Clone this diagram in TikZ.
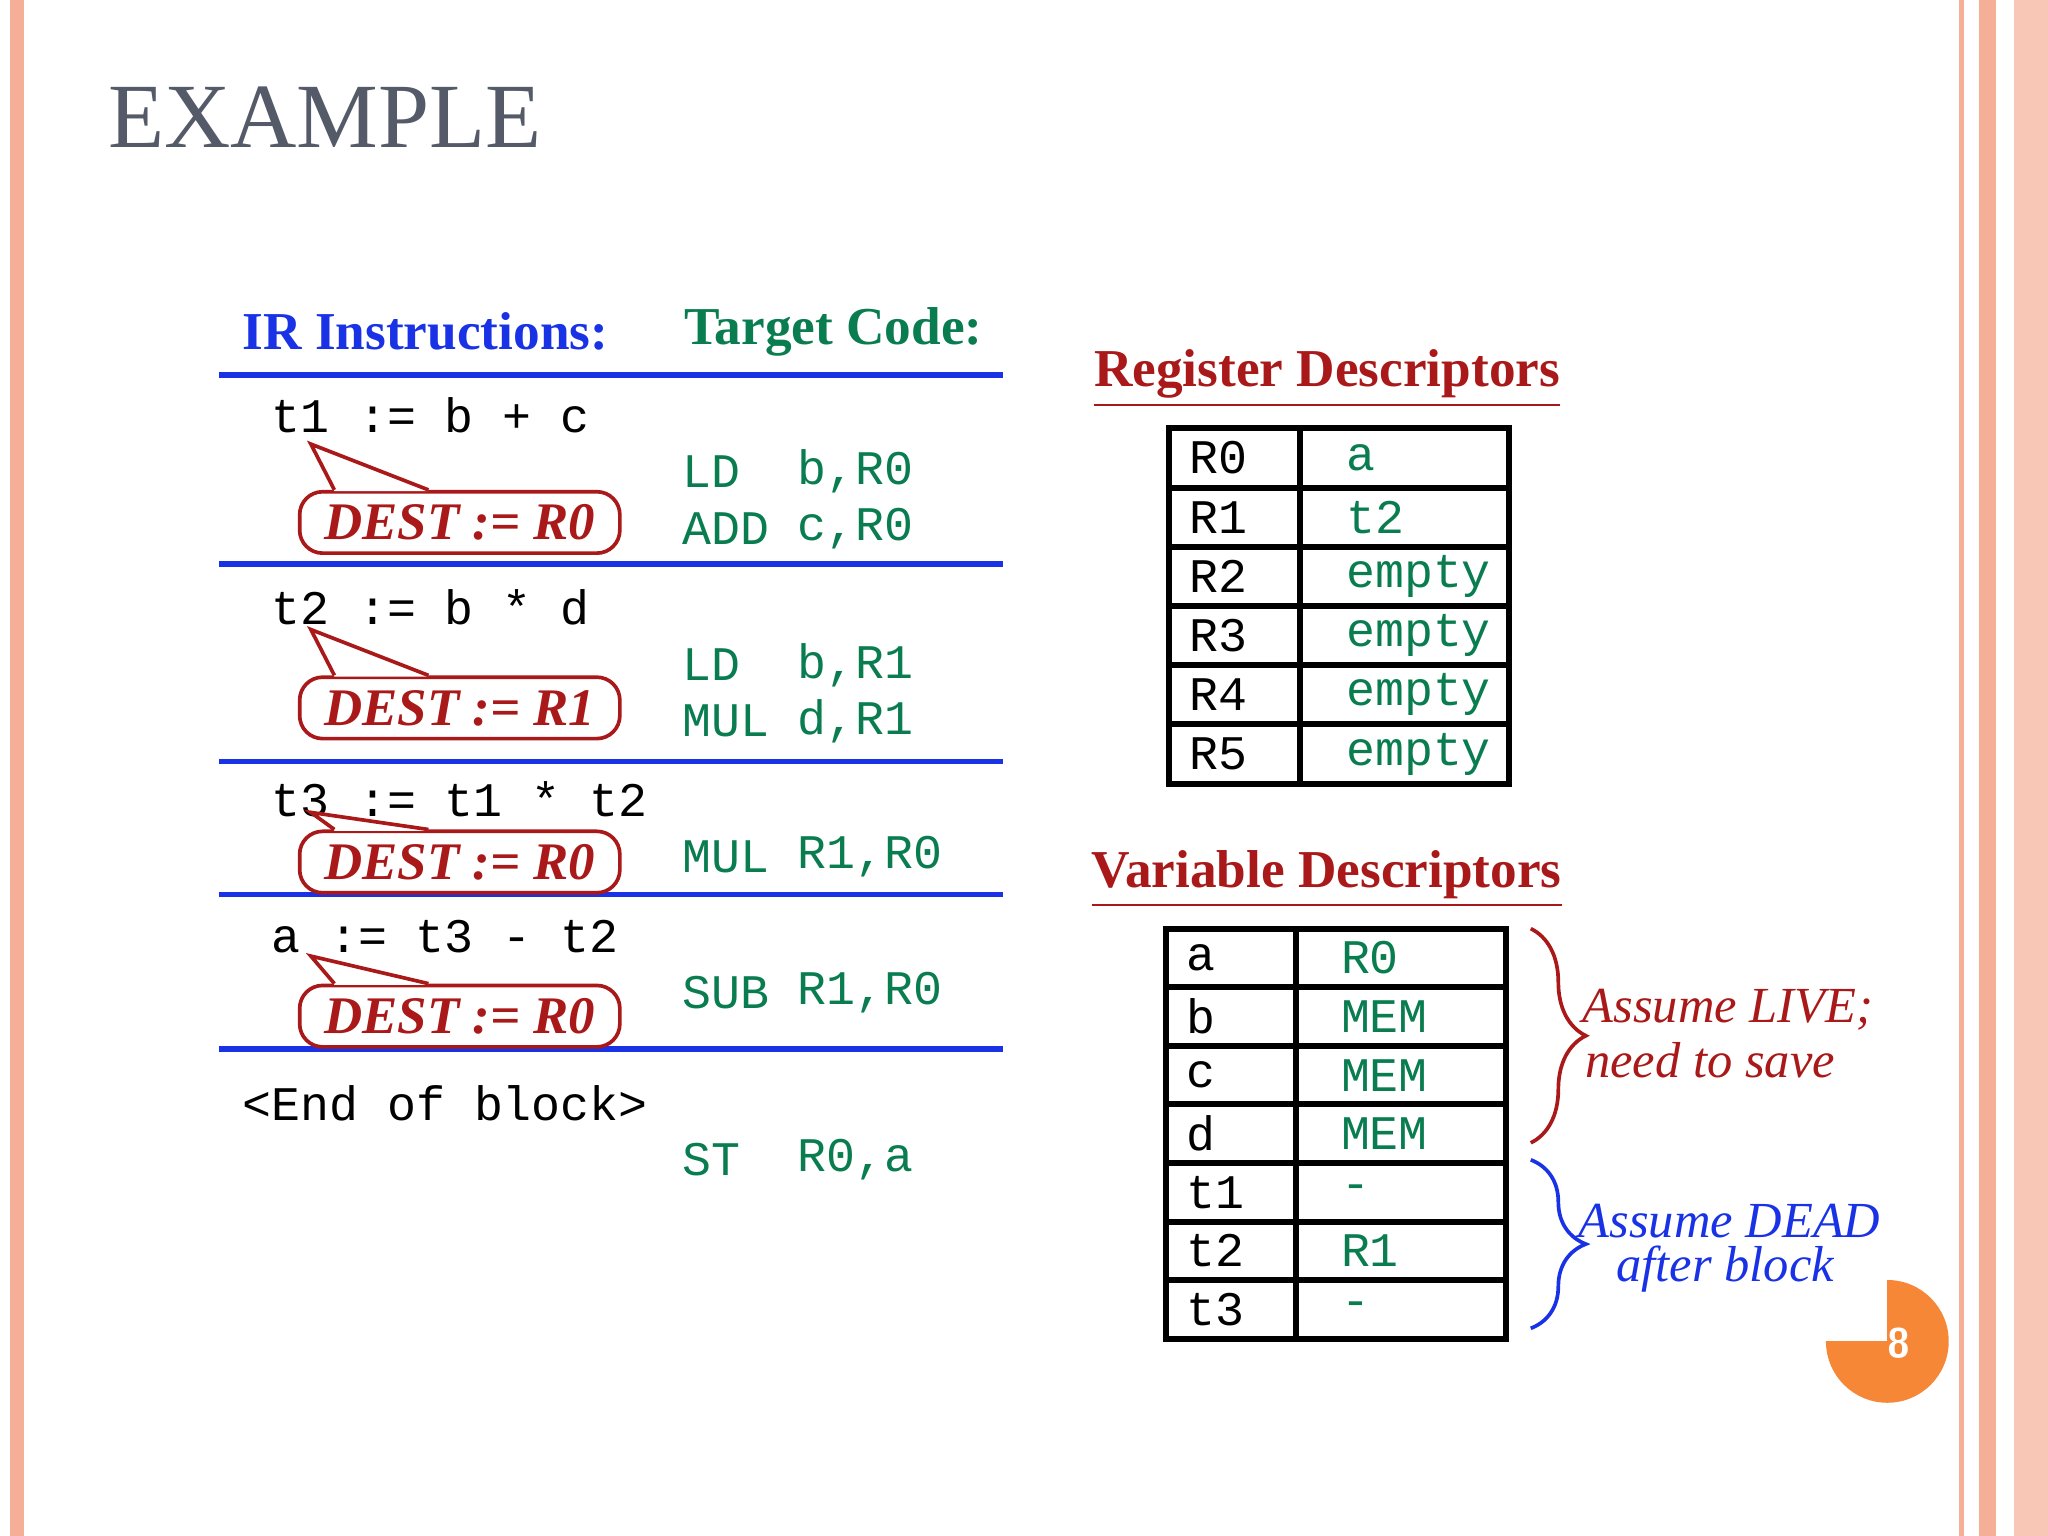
\documentclass[tikz,border=0pt]{standalone}
\usepackage{fontspec}
\setmainfont{Liberation Serif}
\setmonofont{Liberation Mono}
\usepackage{tikz}
\usepackage{xcolor}
\usetikzlibrary{arrows.meta,positioning,decorations.pathreplacing,calc}

\definecolor{irblue}{RGB}{25,50,230}
\definecolor{codegreen}{RGB}{10,125,80}
\definecolor{destred}{RGB}{170,25,25}
\definecolor{titlegray}{RGB}{85,90,105}
\definecolor{rimpink}{RGB}{245,175,150}
\definecolor{dotorange}{RGB}{245,135,55}

\begin{document}
\begin{tikzpicture}[
    x=0.01cm, y=-0.01cm,
    code/.style={anchor=west, inner sep=0pt, font=\ttfamily\fontsize{10.5}{12}\selectfont},
    tgt/.style={code, text=codegreen},
    head/.style={anchor=west, inner sep=0pt, font=\bfseries\fontsize{11.6}{14}\selectfont},
    dest/.style={draw=destred, thick, rounded corners=5pt, fill=white, minimum width=2.45cm, minimum height=0.47cm, inner sep=0pt, text=destred, font=\bfseries\itshape\fontsize{11.5}{14}\selectfont},
    rule/.style={irblue, line width=1.2pt},
    tbl/.style={line width=1.3pt},
    note/.style={anchor=west, inner sep=0pt, font=\itshape\fontsize{11}{13}\selectfont}
]
    \useasboundingbox (0,0) rectangle (1568,1176);
    % slide frame
    \fill[rimpink] (8,0) rectangle (18,1176);
    \fill[rimpink] (1500,0) rectangle (1504,1176);
    \fill[rimpink] (1515,0) rectangle (1528,1176);
    \fill[rimpink!70] (1542,0) rectangle (1568,1176);
    \fill[dotorange] (1445,1027) circle (47);
    \fill[white] (1395,975) rectangle (1445,1027);
    \node[text=white, font=\sffamily\bfseries\fontsize{9}{11}\selectfont] (pg) at (1454,1028) {8};
    \node[anchor=west, inner sep=0pt, text=titlegray, font=\fontsize{20}{24}\selectfont] (title) at (82,90) {EXAMPLE};

    % left part
    \node[head, text=irblue] (irhead) at (185,254) {IR Instructions:};
    \node[head, text=codegreen] (tchead) at (523,254) {Target Code:};
    \foreach \yy in {287,432,583,685,803}
        \draw[rule] (168,\yy) -- (768,\yy);

    \node[code] (ir1) at (207,318) {t1 := b + c};
    \node[code] (ir2) at (207,465) {t2 := b * d};
    \node[code] (ir3) at (207,612) {t3 := t1 * t2};
    \node[code] (ir4) at (207,717) {a := t3 - t2};
    \node[code] (eob) at (185,845) {<End of block>};

    \foreach \op/\arg/\yy [count=\i] in {LD/{b,R0}/361, ADD/{c,R0}/405, LD/{b,R1}/509, MUL/{d,R1}/552,
        MUL/{R1,R0}/656, SUB/{R1,R0}/760, ST/{R0,a}/888} {
        \node[tgt] (op\i) at (522,\yy) {\op};
        \node[tgt] (arg\i) at (610,\yy) {\arg};
    }

    \foreach \yy/\tip/\reg [count=\i] in {400/340/R0, 542/482/R1, 660/622/R0, 778/732/R0} {
        \node[dest] (d\i) at (352,\yy) {DEST := \reg};
        \coordinate (tip\i) at (238,\tip);
        \fill[white] ($(d\i.north west)+(28,1)$) -- (tip\i) -- ($(d\i.north west)+(100,1)$) -- cycle;
        \draw[destred, thick] ($(d\i.north west)+(28,0)$) -- (tip\i) -- ($(d\i.north west)+(100,0)$);
    }

    % register descriptors
    \node[head, text=destred] (reghead) at (837,290) {\underline{Register Descriptors}};
    \draw[tbl] (895,328) rectangle (1155,600);
    \draw[tbl] (995,328) -- (995,600);
    \foreach \r/\v [count=\i] in {R0/a, R1/t2, R2/empty, R3/empty, R4/empty, R5/empty} {
        \pgfmathsetmacro\yy{328+45.33*(\i-0.5)}
        \node[code] (rn\i) at (910,\yy) {\r};
        \node[tgt] (rv\i) at (1030,\yy) {\v};
        \ifnum\i<6 \draw[tbl] (895,{328+45.33*\i}) -- (1155,{328+45.33*\i}); \fi
    }

    % variable descriptors
    \node[head, text=destred] (varhead) at (835,673) {\underline{Variable Descriptors}};
    \draw[tbl] (893,711) rectangle (1153,1025);
    \draw[tbl] (992,711) -- (992,1025);
    \foreach \n/\v [count=\i] in {a/R0, b/MEM, c/MEM, d/MEM, t1/-, t2/R1, t3/-} {
        \pgfmathsetmacro\yy{711+44.86*(\i-0.5)}
        \node[code] (vn\i) at (908,\yy) {\n};
        \node[tgt] (vv\i) at (1026,\yy) {\v};
        \ifnum\i<7 \draw[tbl] (893,{711+44.86*\i}) -- (1153,{711+44.86*\i}); \fi
    }

    % braces
    \coordinate (livetop) at (1172,711);
    \coordinate (livebot) at (1172,875);
    \coordinate (deadtop) at (1172,888);
    \coordinate (deadbot) at (1172,1017);
    \draw[destred, thick, decorate, decoration={brace, amplitude=12pt}] (livetop) -- (livebot);
    \draw[irblue, thick, decorate, decoration={brace, amplitude=12pt}] (deadtop) -- (deadbot);
    \node[note, text=destred] (live1) at (1211,773) {Assume LIVE;};
    \node[note, text=destred] (live2) at (1213,812) {need to save};
    \node[note, text=irblue] (dead1) at (1208,935) {Assume DEAD};
    \node[note, text=irblue] (dead2) at (1237,972) {after block};
\end{tikzpicture}
\end{document}
